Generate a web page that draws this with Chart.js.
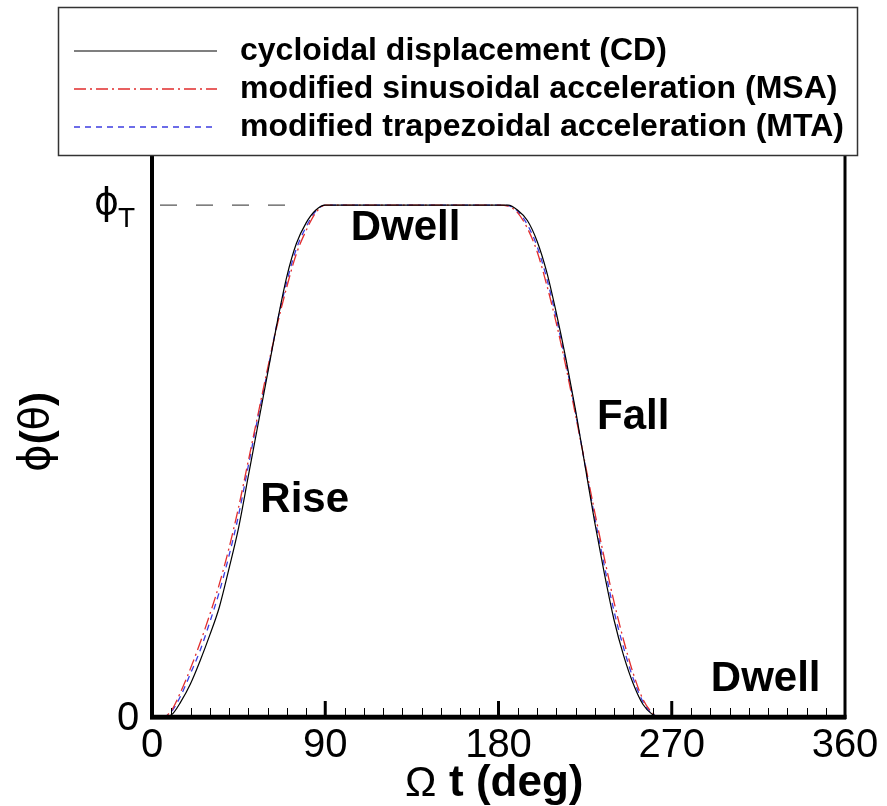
<!DOCTYPE html>
<html><head><meta charset="utf-8">
<script src="https://cdn.jsdelivr.net/npm/chart.js@4.4.1/dist/chart.umd.min.js"></script>
<style>html,body{margin:0;padding:0;background:#fff;}canvas{display:block}</style>
</head><body>
<canvas id="c" width="887" height="806"></canvas>
<script>
// ---- data ----
const angleDeg = [0,5,10,15,20,25,30,35,40,45,50,55,60,65,70,75,80,85,90,
  95,100,105,110,115,120,125,130,135,140,145,150,155,160,165,170,175,180,
  185,190,195,200,205,210,215,220,225,230,235,240,245,250,255,260,265,
  270,275,280,285,290,295,300,305,310,315,320,325,330,335,340,345,350,355,360];
// normalised displacement phi/phi_T
const cdValues = [0,0,0.004,0.03,0.065,0.11,0.16,0.215,0.29,0.37,0.47,0.57,0.67,0.77,0.86,0.925,0.965,0.99,1,
  1,1,1,1,1,1,1,1,1,1,1,1,1,1,1,1,1,1,
  1,0.99,0.97,0.93,0.87,0.79,0.70,0.60,0.49,0.38,0.28,0.19,0.12,0.065,0.025,0.005,0,
  0,0,0,0,0,0,0,0,0,0,0,0,0,0,0,0,0,0,0];
const msaValues = [0,0,0.012,0.05,0.095,0.145,0.2,0.26,0.33,0.41,0.5,0.59,0.68,0.765,0.84,0.905,0.95,0.985,1,
  1,1,1,1,1,1,1,1,1,1,1,1,1,1,1,1,1,1,
  0.998,0.985,0.955,0.91,0.845,0.77,0.685,0.59,0.495,0.4,0.31,0.225,0.15,0.085,0.035,0.008,0,
  0,0,0,0,0,0,0,0,0,0,0,0,0,0,0,0,0,0,0];
const mtaValues = [0,0,0.01,0.042,0.085,0.13,0.185,0.245,0.315,0.395,0.49,0.585,0.675,0.77,0.85,0.915,0.957,0.988,1,
  1,1,1,1,1,1,1,1,1,1,1,1,1,1,1,1,1,1,
  0.999,0.988,0.962,0.92,0.858,0.78,0.692,0.595,0.492,0.39,0.295,0.207,0.135,0.075,0.03,0.006,0,
  0,0,0,0,0,0,0,0,0,0,0,0,0,0,0,0,0,0,0];
const seriesLabels = ['cycloidal displacement (CD)','modified sinusoidal acceleration (MSA)','modified trapezoidal acceleration (MTA)'];
const xTickValues = [0,90,180,270,360];
const xTickLabels = ['0','90','180','270','360'];
const yZeroLabel = '0';
const yTopLabel = '\u03D5';
const yTopSub = 'T';
const phiTValue = 1;
const xTitleSymbol = 'Ω';
const xTitleText = 't (deg)';
const yTitleParts = ['\u03D5','(','θ',')'];
const regionLabels = ['Dwell','Rise','Fall','Dwell'];

const toPts = vals => angleDeg.map((a,i)=>({x:a,y:vals[i]}));

function seg(ctx,x1,y1,x2,y2){ctx.beginPath();ctx.moveTo(x1,y1);ctx.lineTo(x2,y2);ctx.stroke();}

const overlay = {
  id:'overlay',
  afterDatasetsDraw(chart){
    const {ctx, chartArea:a, scales:{x,y}} = chart;
    ctx.save();
    ctx.strokeStyle='#000';
    // axes redrawn over the curves
    const xl = x.getPixelForValue(0), xr = x.getPixelForValue(360), yb = y.getPixelForValue(0);
    ctx.lineWidth=4.5; seg(ctx,xl-2,yb,xr+1.5,yb);
    ctx.lineWidth=4; seg(ctx,xl,a.top,xl,yb);
    ctx.lineWidth=3; seg(ctx,xr,a.top,xr,yb+2);
    // minor ticks (inward)
    ctx.lineWidth=1;
    for(let v=10; v<360; v+=10){
      if(v%90===0) continue;
      const px=Math.round(x.getPixelForValue(v))+0.5;
      seg(ctx,px,yb,px,yb-9);
    }
    ctx.lineWidth=3;
    [90,180,270].forEach(v=>{const px=x.getPixelForValue(v); seg(ctx,px,yb,px,yb-16);});
    // phi_T reference dashed line
    const yT = y.getPixelForValue(phiTValue);
    ctx.save(); ctx.setLineDash([17,19]); ctx.strokeStyle='#555'; ctx.lineWidth=1.3;
    seg(ctx,160,yT,x.getPixelForValue(71),yT); ctx.restore();
    // tick labels
    ctx.fillStyle='#000';
    ctx.font='40px "Liberation Sans", Arial, sans-serif';
    ctx.textAlign='center'; ctx.textBaseline='middle';
    xTickValues.forEach((v,i)=>ctx.fillText(xTickLabels[i], x.getPixelForValue(v), 746));
    ctx.fillText(yZeroLabel, 128, yb+2);
    ctx.textAlign='left';
    ctx.font='38px "DejaVu Sans", sans-serif';
    ctx.fillText(yTopLabel, 94, yT-1);
    ctx.font='28px "Liberation Sans", Arial, sans-serif';
    ctx.fillText(yTopSub, 118, yT+14);
    // x title
    ctx.textBaseline='alphabetic';
    ctx.font='42px "Liberation Sans", Arial, sans-serif';
    ctx.fillText(xTitleSymbol, 405, 796);
    ctx.font='bold 44px "Liberation Sans", Arial, sans-serif';
    ctx.fillText(xTitleText, 449, 796);
    // y title (rotated)
    ctx.save(); ctx.translate(38,432); ctx.rotate(-Math.PI/2);
    ctx.textBaseline='middle';
    const fonts=['42px "DejaVu Sans", sans-serif','bold 42px "Liberation Sans", Arial, sans-serif','40px "DejaVu Sans", sans-serif','bold 42px "Liberation Sans", Arial, sans-serif'];
    let total=0; const widths=[];
    yTitleParts.forEach((p,i)=>{ctx.font=fonts[i]; const w=ctx.measureText(p).width; widths.push(w); total+=w;});
    let cx=-total/2; ctx.textAlign='left';
    yTitleParts.forEach((p,i)=>{ctx.font=fonts[i]; ctx.fillText(p,cx,0); cx+=widths[i];});
    ctx.restore();
    // region labels
    ctx.textAlign='center'; ctx.textBaseline='middle';
    ctx.font='bold 42px "Liberation Sans", Arial, sans-serif';
    const pos=[[131.7,0.955],[79.3,0.424],[250,0.586],[318.8,0.074]];
    regionLabels.forEach((t,i)=>ctx.fillText(t, x.getPixelForValue(pos[i][0]), y.getPixelForValue(pos[i][1])));
    // legend box
    ctx.fillStyle='#fff'; ctx.fillRect(58,7,800,149);
    ctx.strokeStyle='#333'; ctx.lineWidth=1.5; ctx.strokeRect(58.5,7.5,799,148);
    const rows=[51,89,127];
    chart.data.datasets.forEach((ds,i)=>{
      ctx.save();
      ctx.strokeStyle=ds.borderColor; ctx.lineWidth=ds.borderWidth;
      ctx.setLineDash(ds.borderDash||[]);
      seg(ctx,74,rows[i],217,rows[i]);
      ctx.restore();
      ctx.fillStyle='#000'; ctx.textAlign='left'; ctx.textBaseline='middle';
      ctx.font='bold 32px "Liberation Sans", Arial, sans-serif';
      ctx.fillText(ds.label,240,rows[i]);
    });
    ctx.restore();
  }
};

new Chart(document.getElementById('c'), {
  type:'line',
  data:{datasets:[
    {label:seriesLabels[0], data:toPts(cdValues), borderColor:'#000', borderWidth:1.2, pointRadius:0, cubicInterpolationMode:'monotone', fill:false},
    {label:seriesLabels[1], data:toPts(msaValues), borderColor:'rgb(225,45,45)', borderWidth:1.3, borderDash:[12,4,2,4], pointRadius:0, cubicInterpolationMode:'monotone', fill:false},
    {label:seriesLabels[2], data:toPts(mtaValues), borderColor:'rgb(60,60,225)', borderWidth:1.3, borderDash:[6,5], pointRadius:0, cubicInterpolationMode:'monotone', fill:false}
  ]},
  options:{
    responsive:false, animation:false, devicePixelRatio:1,
    layout:{padding:{top:154,right:42,left:0,bottom:0}},
    plugins:{legend:{display:false}, tooltip:{enabled:false}},
    scales:{
      x:{type:'linear', min:0, max:360, afterFit(s){s.height=89;},
         ticks:{display:false}, grid:{display:false, drawTicks:false},
         border:{display:true, width:4.5, color:'#000'}},
      y:{type:'linear', min:0, max:1.1, afterFit(s){s.width=152;},
         ticks:{display:false}, grid:{display:false, drawTicks:false},
         border:{display:true, width:4, color:'#000'}}
    }
  },
  plugins:[overlay]
});
</script>
</body></html>
